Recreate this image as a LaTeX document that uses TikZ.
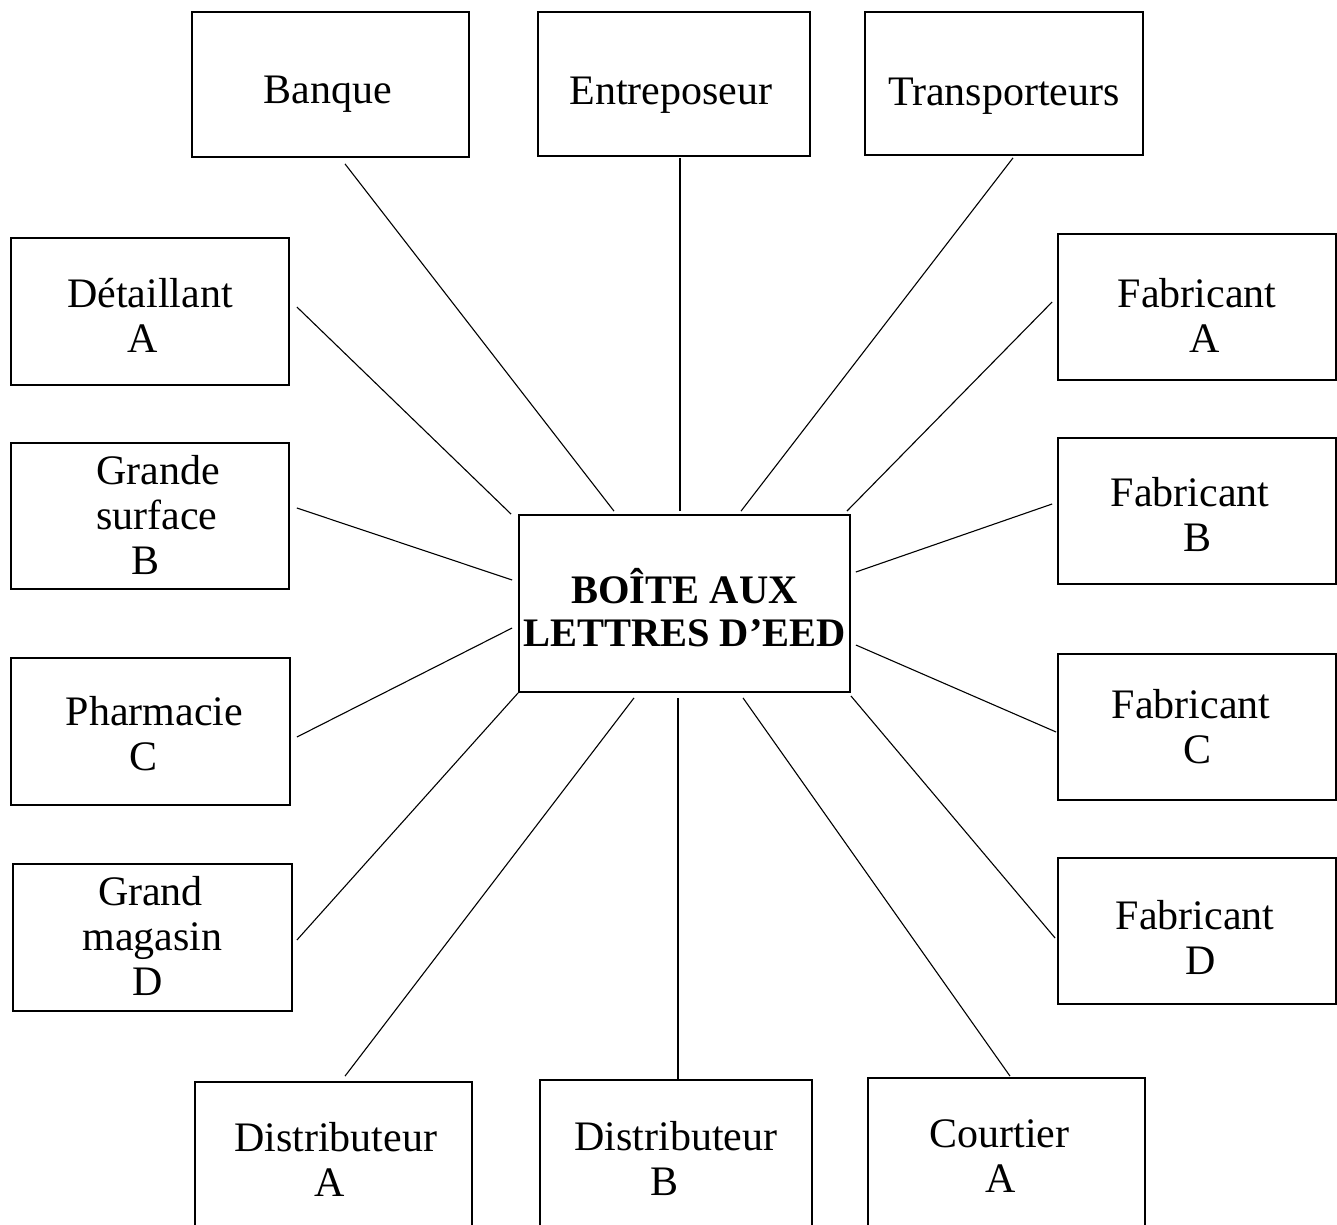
\documentclass[tikz,border=0pt]{standalone}
\usepackage{fontspec}
\setmainfont{Liberation Serif}
\newcommand\placetext[2]{\raisebox{-#1}[0pt][0pt]{\begin{tabular}[t]{@{}c@{}}#2\end{tabular}}}
\begin{document}
\begin{tikzpicture}[x=1pt,y=-1pt,
  boxnode/.style={draw,line width=1.8pt,minimum width=278pt,minimum height=146pt,inner sep=0pt,font=\fontsize{42}{45}\selectfont},
  hubnode/.style={draw,line width=1.8pt,minimum width=331pt,minimum height=177pt,inner sep=0pt,font=\fontsize{40.5}{43}\selectfont\bfseries},
  link/.style={line width=1.1pt}]
\useasboundingbox[fill=white] (0,0) rectangle (1337,1224);
\node[hubnode] (hub) at (684.5,603.5) {\placetext{0pt}{BOÎTE AUX\\LETTRES D’EED}};
\node[boxnode,minimum width=277pt,minimum height=145pt] (banque) at (330.5,84.5) {\placetext{18.5pt}{Banque\kern6pt}};
\node[boxnode,minimum width=272pt,minimum height=144pt] (entre) at (674,84) {\placetext{20.5pt}{Entreposeur\kern6pt}};
\node[boxnode,minimum height=143pt] (transp) at (1004,83.5) {\placetext{21.5pt}{Transporteurs}};
\node[boxnode,minimum height=147pt] (detA) at (150,311.5) {\placetext{-4.5pt}{Détaillant\\A\kern14pt}};
\node[boxnode] (gsB) at (150,516) {\placetext{-32pt}{\kern16pt Grande\\\kern14pt surface\\B\kern8pt}};
\node[boxnode,minimum width=279pt,minimum height=147pt] (pharmC) at (150.5,731.5) {\placetext{-6.5pt}{\kern8pt Pharmacie\\C\kern14pt}};
\node[boxnode,minimum width=279pt,minimum height=147pt] (gmD) at (152.5,937.5) {\placetext{-32.5pt}{Grand\kern4pt\\magasin\\D\kern10pt}};
\node[boxnode] (fabA) at (1197,307) {\placetext{0pt}{Fabricant\\\kern16pt A}};
\node[boxnode] (fabB) at (1197,511) {\placetext{-5pt}{Fabricant\kern14pt\\B}};
\node[boxnode] (fabC) at (1197,727) {\placetext{-9pt}{Fabricant\kern12pt\\C}};
\node[boxnode] (fabD) at (1197,931) {\placetext{-2pt}{Fabricant\kern4pt\\\kern8pt D}};
\node[boxnode,minimum width=277pt,minimum height=150pt] (distA) at (333.5,1157) {\placetext{-6pt}{\kern4pt Distributeur\\A\kern8pt}};
\node[boxnode,minimum width=272pt,minimum height=150pt] (distB) at (676,1155) {\placetext{-5pt}{Distributeur\\B\kern24pt}};
\node[boxnode,minimum width=277pt,minimum height=150pt] (courtA) at (1006.5,1153) {\placetext{-6pt}{Courtier\kern14pt\\A\kern12pt}};
\draw[link] ([shift={(14.5,6)}]banque.south) -- ([shift={(-70.5,-3)}]hub.north);
\draw[link] ([shift={(6,1)}]entre.south) -- ([shift={(-4.5,-3)}]hub.north);
\draw[link] ([shift={(9,2)}]transp.south) -- ([shift={(56.5,-3)}]hub.north);
\draw[link] ([shift={(7,-4.5)}]detA.east) -- ([shift={(-7,0)}]hub.north west);
\draw[link] ([shift={(7,-8)}]gsB.east) -- ([shift={(-6,-23.5)}]hub.west);
\draw[link] ([shift={(6,5.5)}]pharmC.east) -- ([shift={(-6,24.5)}]hub.west);
\draw[link] ([shift={(4,2.5)}]gmD.east) -- (hub.south west);
\draw[link] ([shift={(-5,-5)}]fabA.west) -- ([shift={(-4,-3)}]hub.north east);
\draw[link] ([shift={(-5,-7)}]fabB.west) -- ([shift={(5,-31.5)}]hub.east);
\draw[link] ([shift={(-1,5)}]fabC.west) -- ([shift={(5,41.5)}]hub.east);
\draw[link] ([shift={(-2,7)}]fabD.west) -- ([shift={(0,3)}]hub.south east);
\draw[link] ([shift={(11.5,-5)}]distA.north) -- ([shift={(-50.5,5)}]hub.south);
\draw[link] ([shift={(2,0)}]distB.north) -- ([shift={(-6.5,5)}]hub.south);
\draw[link] ([shift={(3.5,-1)}]courtA.north) -- ([shift={(58.5,5)}]hub.south);
\end{tikzpicture}
\end{document}
